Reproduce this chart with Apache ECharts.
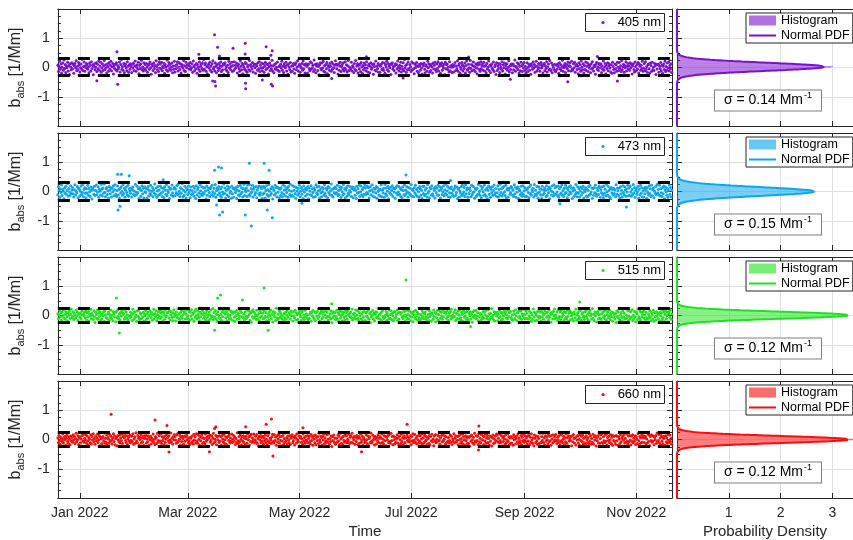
<!DOCTYPE html>
<html>
<head>
<meta charset="utf-8">
<script src="https://cdn.jsdelivr.net/npm/echarts@6/dist/echarts.min.js"></script>
<style>html,body{margin:0;padding:0;background:#fff}#chart{width:853px;height:540px}</style>
</head>
<body>
<div id="chart"></div>
<script>
// ---- data -------------------------------------------------------------
const wavelengths = ['405 nm', '473 nm', '515 nm', '660 nm'];
const lineColors = ['#7B10D0', '#0AA6F0', '#1CE41C', '#FF0A0A'];
const fillColors = ['rgba(123,16,208,0.6)', 'rgba(10,166,240,0.62)', 'rgba(28,228,28,0.6)', 'rgba(255,10,10,0.6)'];
const sigmas = [0.14, 0.15, 0.12, 0.12];          // Mm^-1
const means = [0.025, 0.0, 0.01, 0.0];            // Mm^-1
const monthTickDates = ['2022-01-01', '2022-03-01', '2022-05-01', '2022-07-01', '2022-09-01', '2022-11-01'];
const monthTickLabels = ['Jan 2022', 'Mar 2022', 'May 2022', 'Jul 2022', 'Sep 2022', 'Nov 2022'];
const densityTicks = [1, 2, 3];
const seriesStart = '2021-12-20T00:00:00Z';      // first sample; three samples per day
const seriesEnd = '2022-11-20T12:00:00Z';
const samplesPerDay = 3;

// b_abs noise, every 8 h, in units of 0.01 Mm^-1
const noise405 = [
8,-14,3,21,-6,12,-19,1,15,-9,26,-3,10,-17,5,-1,18,-12,7,-24,13,2,-8,16,
-4,11,-20,6,14,-2,23,-11,4,-7,17,9,-15,0,12,-5,28,-10,3,19,-13,6,-1,14,
10,-6,2,-18,15,7,-12,20,-3,9,-25,4,13,-8,1,16,-14,11,-4,22,-9,5,18,-16,
-2,13,-10,5,24,-7,9,-1,-19,12,3,-13,17,-5,8,21,-11,2,14,-22,6,-3,11,-8,
16,-12,7,-4,1,19,-15,10,27,-6,3,-9,14,-18,6,12,-2,-11,20,4,-16,9,-6,13,
3,-17,11,-2,15,-10,6,22,-13,1,9,-5,18,-21,7,-3,13,25,-8,2,-12,16,-4,10,
-9,14,1,-16,8,12,-6,19,-1,-23,11,5,-10,15,-3,7,-17,23,3,-7,10,-14,20,-2,
12,-5,18,-11,4,-1,14,-20,9,2,-8,26,-13,6,17,-4,11,-9,1,15,-18,5,-6,21,
-15,7,-3,10,20,-12,2,16,-7,13,-19,4,9,-2,24,-10,6,-14,18,-1,8,-25,12,-5,
5,17,-8,-1,12,-16,22,3,-11,8,-4,14,-20,10,1,-7,19,-13,4,11,-3,16,-9,27,
-6,9,15,-13,2,-21,7,11,-2,18,-9,5,-15,13,23,-5,1,-12,16,6,-18,10,-1,-10,
14,-3,6,19,-14,4,-8,13,-24,9,16,-6,2,-11,8,-17,21,-2,12,-7,3,18,-13,7,
-11,20,-5,8,-1,15,-19,6,11,-3,-13,22,4,-8,14,-21,9,1,-6,17,-10,13,-16,2,
7,-8,24,-12,10,3,-5,17,-15,6,12,-1,-20,11,5,-9,16,-4,20,-14,8,-2,15,-11,
-1,12,-16,4,18,-7,13,-3,9,-22,2,15,-10,7,-4,25,-12,6,-18,10,-5,14,1,-8,
19,-10,3,-14,7,11,-2,21,-9,4,-17,13,6,-1,18,-12,8,-23,12,2,-7,17,-15,5,
-13,6,14,-5,-20,9,16,-8,2,23,-12,5,11,-16,3,-2,14,-9,22,-4,10,-19,7,13,
4,-19,9,12,-3,-11,20,-6,15,-1,8,-14,26,-7,11,-18,5,13,-10,3,-25,9,16,-3,
-8,15,-2,21,-13,6,-16,10,-4,17,-21,7,1,-9,14,4,-13,19,-6,12,-1,-17,8,23,
11,-4,8,-22,13,-9,5,18,-14,3,10,-5,16,-12,-2,20,-7,9,-15,6,24,-11,2,-6,
-3,18,-12,6,1,-17,14,-7,24,-10,5,13,-19,8,-4,11,-14,17,2,-20,7,-8,15,-1,
9,-11,20,-2,-15,7,12,-18,4,16,-6,-1,10,-23,13,3,-9,22,-12,5,-3,14,-16,8,
-16,4,11,-7,17,-3,-10,15,-20,9,2,21,-8,14,-13,6,-1,12,-24,10,16,-5,3,-10,
6,13,-19,10,-5,22,1,-12,8,-3,18,-15,4,-6,16,-11,27,-2,7,-16,11,-8,19,-4,
-7,10,2,-14,19,-8,15,-4,-21,12,-1,7,17,-13,3,-18,10,5,-9,14,-2,-22,11,6,
15,-6,-18,9,4,-12,21,-1,13,-16,6,-10,11,2,-19,15,-5,8,18,-7,-14,12,-3,20,
-12,3,13,-20,8,16,-9,5,-2,11,-24,18,-4,9,12,-7,2,-15,20,-11,6,1,-17,10,
2,-15,7,17,-10,5,-4,23,-13,8,14,-20,1,-6,17,9,-12,4,-3,15,-19,7,22,-9,
-5,11,-1,-16,24,-3,10,-11,6,19,-8,3,-14,13,-2,-21,8,16,-6,11,-13,20,-4,5,
13,-9,18,4,-12,7,-19,14,-5,1,22,-10,8,-17,5,12,-3,-8,19,-14,3,9,-24,16,
-10,6,-3,14,-17,11,2,-6,20,-12,9,-1,15,-22,7,-4,13,-9,1,23,-15,6,-7,12,
8,-18,12,-8,5,26,-13,3,-1,16,-7,11,-19,4,-11,18,6,-14,10,-2,17,-10,4,-20,
-4,16,-14,1,11,-9,7,-23,13,4,-6,19,-2,10,-16,3,21,-12,5,-5,14,-1,-13,9,
17,-2,5,-19,9,14,-11,6,-3,20,-15,2,12,-8,24,-6,-10,15,-18,8,1,-7,11,-12,
-14,8,-6,12,3,-20,16,-4,9,-10,1,25,-13,7,-1,14,-17,4,10,-3,19,-11,6,15,
3,-12,21,-5,-9,13,-1,18,-16,6,11,-7,4,-21,16,-4,9,-13,22,1,-8,13,-19,7,
-7,19,-10,4,15,-14,9,-2,6,-18,13,-5,20,-1,-12,8,3,-23,11,17,-6,2,-10,14,
10,-1,13,-17,5,-6,22,-9,2,14,-21,8,-3,16,-11,5,12,-2,-15,9,-20,18,3,-7,
-18,12,-4,9,-13,18,1,-10,17,-3,6,-14,23,-8,2,11,-16,7,-1,20,-12,4,14,-5,
6,-9,16,-1,11,-22,5,13,-7,-15,19,3,-11,10,-5,17,-19,12,4,-9,8,-3,21,-13,
-2,14,-11,20,-6,3,-16,9,12,-4,-19,15,7,-13,18,-8,1,-10,14,6,-24,11,-5,9,
11,-16,5,-3,17,-11,8,-20,4,12,-7,21,-14,3,-9,15,-2,19,-12,7,-4,13,-17,2
];
const noise473 = [
-11,16,4,-20,9,-3,22,-14,7,1,-25,12,-6,18,-9,3,27,-16,10,-2,-13,20,-7,5,
14,-8,-19,6,23,-12,2,-4,17,-21,11,8,-15,1,19,-10,-3,24,-18,7,13,-6,-22,9,
-5,21,-13,10,-1,-17,15,4,-26,12,6,-9,18,-14,3,22,-11,-2,16,-20,8,1,-12,25,
8,-15,12,-6,26,-3,-18,9,14,-10,2,-23,17,5,-8,13,-19,11,-1,20,-14,6,23,-9,
-17,3,19,-12,7,-22,11,-5,16,1,-13,24,-7,10,-20,4,15,-3,-11,21,-16,9,2,-6,
12,-19,6,15,-9,2,-14,25,-2,-11,18,-4,9,-24,13,7,-16,3,20,-8,11,-21,16,-1,
-3,10,-23,8,17,-15,4,-7,21,-12,1,14,-18,6,-5,26,-10,12,-20,2,17,-13,5,-9,
19,-6,13,-17,-1,11,-21,16,5,-9,23,-14,3,-3,15,-24,8,10,-12,22,-5,-16,9,14,
-14,8,-4,20,-11,24,-8,1,-17,13,-6,9,27,-19,4,-13,18,-2,-22,11,6,-10,19,-3,
5,-21,15,-10,3,-7,18,-16,11,-1,-24,20,-12,7,14,-5,-18,23,2,-9,16,-14,-4,12,
-8,13,2,-25,19,-13,6,12,-3,-18,9,16,-10,22,-1,-15,11,-7,24,-20,3,13,-11,7,
17,-4,-14,9,-20,15,-2,-9,26,-6,12,-22,4,-11,19,8,-17,14,-5,1,-23,18,-8,10,
-20,11,7,-3,14,-24,5,18,-12,2,-15,21,-7,13,-2,-19,9,25,-14,6,-1,12,-17,22,
3,-12,24,-15,-6,10,-1,21,-19,8,15,-11,-3,17,-21,5,12,-8,19,-13,-4,16,10,-23,
-9,18,-5,12,-22,3,20,-10,6,-16,24,1,-13,9,-7,16,-26,11,3,-12,21,-6,14,-18,
15,-2,11,-21,8,-14,13,-4,-19,23,-9,5,18,-15,7,-3,12,-20,17,4,-10,25,-16,1,
-13,20,-16,4,16,-7,-23,14,2,-12,10,-5,21,-18,1,14,-9,6,-24,19,-2,8,-15,11,
6,-9,17,-25,12,1,-11,20,-14,9,-3,-20,13,4,-17,23,-6,15,-10,2,18,-22,7,-4,
-18,14,-1,10,-13,22,-7,-16,11,5,-22,17,-4,12,-11,2,26,-13,8,-19,10,-3,15,-8,
10,-5,21,-14,3,-10,16,7,-20,14,-1,-12,24,-8,9,-21,5,13,-15,20,-6,-11,3,17,
-2,-17,9,15,-21,6,12,-13,4,-24,18,-6,10,-3,22,-16,-1,19,-11,7,-18,14,-9,24,
13,-10,-3,19,-7,14,-22,2,16,-11,5,23,-15,-2,11,-19,8,-5,17,-23,13,1,-12,6,
-15,7,22,-18,4,-5,11,-20,25,-8,12,-14,1,18,-25,9,-4,14,-9,3,20,-16,11,-2,
9,-23,14,-6,20,-12,-2,17,-9,10,-17,6,-21,15,3,-11,22,-14,5,-7,16,-1,-19,13,
-6,12,-11,24,-15,8,3,-18,13,-4,21,-10,7,-16,12,-1,-20,17,9,-13,4,-24,18,-7,
18,-14,5,-9,11,-19,23,-5,1,-21,14,9,-12,20,-8,-15,10,4,-22,16,-3,11,-13,21,
-12,3,16,-22,7,13,-10,-1,20,-15,6,-7,25,-11,2,17,-18,12,-5,-20,9,15,-6,-14,
4,-16,10,19,-13,-3,15,-24,8,11,-19,2,-6,16,-14,21,-9,-2,14,-17,23,-8,5,12,
-20,9,-7,13,3,-18,21,-11,-4,17,-2,-23,10,6,-16,11,-10,24,-7,1,-14,19,-21,8,
15,-1,-13,22,-10,6,-16,12,-25,4,19,-9,14,-20,8,-4,16,-13,3,22,-11,-5,10,-17,
-4,20,-19,7,-12,25,-3,9,-15,13,-8,18,-1,-14,21,-22,6,11,-19,5,12,-9,-3,17,
11,-12,4,-17,23,-8,14,-20,10,-2,15,-24,8,3,-11,18,-5,-16,20,-10,2,14,-18,7,
-16,6,13,-3,-21,16,-7,22,-13,5,-1,11,-19,24,-9,4,-14,17,-6,-23,16,-2,9,-11,
8,-22,18,-11,5,-6,12,3,-18,20,-14,7,-4,15,-25,10,2,-12,19,-1,-15,23,-8,13,
-10,17,-2,-14,19,-20,9,-9,15,-5,22,-13,3,-17,11,-7,21,-3,13,-21,7,-11,16,-1,
20,-7,11,-24,2,13,-16,6,-10,24,-3,-18,16,-6,9,-19,1,15,-12,10,-4,18,-22,5,
-1,13,-15,8,-19,4,17,-12,21,-9,-2,12,-23,10,-13,14,-4,22,-8,-16,11,3,-10,19,
14,-20,6,-4,16,-11,-21,19,-6,8,-15,25,-1,-12,17,3,-18,9,-24,14,-5,7,-13,10,
-7,5,-18,23,-9,11,2,-14,12,-22,16,-8,4,-19,20,-3,-11,16,5,-16,9,-2,21,-15,
12,-13,19,-2,-16,7,-10,24,-5,14,-20,3,11,-9,-1,18,-23,8,-12,21,-6,13,-19,2,
-19,10,-8,15,4,-23,13,-3,-12,20,-7,9,-17,22,-14,6,12,-21,1,-6,17,-11,24,-5,
7,-11,21,-15,9,-4,-17,14,-8,19,-24,6,15,-2,-13,10,-20,3,22,-9,14,-18,4,-12
];
const noise515 = [
6,-11,2,17,-5,9,-16,12,-1,20,-8,3,-13,14,7,-4,-19,10,1,15,-10,5,22,-7,
-3,13,-14,8,1,-9,18,-2,11,-17,4,23,-6,9,-12,2,16,-21,6,-1,12,-8,19,-15,
10,-4,14,-19,5,-2,21,-11,7,1,-14,16,-5,-24,11,3,-9,19,-13,8,-3,14,-17,4,
-12,7,-1,13,-20,16,2,-7,25,-10,5,12,-16,3,-6,18,-11,1,-18,13,7,-4,10,-21,
14,-8,19,-3,-11,6,-15,10,-2,17,-22,8,4,-13,20,-5,12,-9,2,-16,22,-1,-7,11,
-5,3,-17,21,8,-12,13,-6,1,-20,15,-2,18,-8,-14,9,5,-10,24,-4,11,-19,6,-1,
17,-14,6,-9,12,-1,-22,15,4,-7,10,-16,2,21,-11,7,-3,16,-18,3,-9,13,-2,19,
-10,8,-5,14,-19,11,3,-13,19,-4,-1,9,-25,12,-8,16,-15,2,13,-6,-17,8,20,-3,
4,-18,12,1,-7,23,-10,6,-14,10,-3,17,-9,2,-21,14,8,-12,5,19,-8,-1,-13,15,
-16,11,-2,20,-12,4,9,-20,14,-6,22,-1,-11,15,3,-7,-18,11,-4,7,-23,16,3,-9,
9,-3,-15,7,16,-8,1,-17,12,2,-13,19,-6,-2,24,-14,10,-5,17,-11,4,-20,13,1,
-7,21,-10,3,-16,12,-4,18,-22,9,5,-8,14,-18,6,-3,20,-13,1,-9,15,11,-16,8,
13,-6,-20,11,-1,17,-13,2,8,-11,-3,16,-21,10,-5,23,-8,4,-15,12,-2,-10,19,-4,
-2,15,5,-16,9,-23,14,-5,20,-9,11,-4,3,-14,18,-1,-12,7,-19,16,-6,9,-3,21,
8,-12,17,-7,-3,10,-18,21,-6,4,-15,13,-1,19,-10,6,-22,14,2,-5,10,-17,25,-8,
-14,4,-9,16,12,-4,6,-11,-2,22,-17,7,-8,11,-13,2,17,-6,-21,9,3,-12,15,-1,
11,-19,13,-1,-8,18,-15,9,3,-14,8,-23,15,5,-4,-17,11,20,-9,1,-14,18,-5,6,
-8,1,-14,24,-10,5,12,-20,10,-1,17,-7,-12,13,-18,9,-2,14,-10,22,-3,6,-19,12,
16,-11,7,-5,14,-21,2,17,-8,11,-3,-16,21,-4,6,-11,15,-24,8,-7,13,-1,10,-14,
-3,18,-12,9,-20,3,15,-9,-1,13,-19,4,11,-6,-15,18,-2,9,-13,16,1,-22,7,-4,
12,-7,22,-15,4,-10,8,-3,19,-13,2,16,-9,-17,10,-1,21,-11,5,-18,12,-6,14,-20,
-17,9,-2,14,-8,20,-13,6,-24,11,-5,1,17,-12,8,-19,4,13,-7,11,-4,24,-10,2,
5,-14,10,-20,16,-3,-11,23,-7,2,14,-17,7,-2,-13,20,-9,3,16,-14,8,-1,-18,13,
-9,13,-6,3,19,-16,9,-12,11,-22,5,10,-4,21,-10,-1,14,-20,2,-6,18,-13,4,-11,
15,-2,-18,11,-5,7,-21,14,2,-8,18,-12,-1,12,-16,6,-7,23,-15,3,-10,15,-3,9,
-11,6,12,-4,-14,21,-7,3,-18,15,-3,7,-20,9,2,-13,19,-4,10,-21,6,-8,17,-15,
3,-20,16,-9,11,-1,-13,18,-5,10,-24,12,5,-10,15,-3,-17,8,-2,14,-12,21,-6,1,
-6,11,-3,20,-17,8,-10,5,15,-13,1,19,-8,-15,11,4,-20,16,-6,9,-1,-14,13,-9,
19,-15,7,-1,13,-12,4,-23,12,-4,16,-7,2,17,-11,-2,10,-18,22,-5,7,-16,3,-12,
-4,14,-9,12,-22,2,18,-10,-3,20,-15,6,-13,8,-6,24,-8,1,-14,13,-19,5,11,-2,
10,-18,3,-7,17,-5,11,-16,7,-12,-2,14,-21,5,13,-9,2,-12,18,-4,9,-25,14,-7,
-13,2,-16,15,6,-11,20,-1,-17,9,12,-6,17,-3,-10,15,-14,6,-1,21,-8,3,-11,16,
7,-10,21,-12,-1,14,-8,10,-20,3,-14,22,-5,11,-18,7,1,-16,13,-3,17,-9,-4,12,
-19,14,-4,8,-13,3,16,-21,9,-6,11,-2,-15,19,-7,3,-23,10,5,-12,14,-1,22,-10,
2,-7,13,-17,20,-9,-3,12,-14,18,-5,8,1,-19,14,-11,9,-6,-13,17,-2,-20,8,15,
-15,10,-1,-11,7,-19,13,4,-8,22,-16,2,9,-13,-3,16,-10,20,-17,5,10,-6,-2,-14,
13,-4,18,-8,2,-15,9,-20,17,-2,6,-12,24,-9,4,-17,12,-1,11,-22,7,14,-11,3,
-8,20,-13,5,-21,11,-6,15,-1,-12,19,-16,3,13,-8,-2,18,-14,6,-3,12,-19,9,-5,
4,-12,7,-24,15,-3,12,-9,21,-15,1,10,-7,-20,16,-5,8,-13,24,-10,2,-8,16,-17,
-2,16,-11,13,-6,20,-17,1,-10,14,-4,-21,12,6,-14,21,-3,-9,15,-16,11,-5,3,13,
17,-9,2,-14,11,-7,23,-13,5,-3,16,-8,-18,10,1,-12,18,-20,9,-4,-15,13,-1,7,
-10,5,-19,12,-2,8,-14,19,-7,13,-20,4,15,-11,-1,11,-21,6,14,-6,20,-13,5,-3
];
const noise660 = [
5,-10,14,-3,-16,8,2,-7,19,-12,6,-1,11,-20,4,15,-6,-13,9,1,-18,12,-4,7,
-9,16,-2,11,-14,3,21,-8,-1,13,-17,6,9,-11,2,-22,14,-5,18,-9,4,-2,16,-13,
12,-4,-19,7,1,-11,16,-15,10,-2,20,-8,3,-16,12,-4,6,19,-10,-1,14,-21,8,2,
-14,6,10,-5,22,-13,4,-9,15,-18,7,1,-12,17,-6,11,-2,-15,5,20,-7,12,-19,3,
8,-21,13,-1,-8,15,-12,5,-3,18,-14,10,-24,6,14,-3,-10,13,-17,2,9,-6,15,-11,
-3,11,-7,20,-16,2,9,-13,23,-5,-10,14,4,-19,8,-1,17,-12,6,-8,12,-20,3,10,
15,-12,2,-8,13,-20,7,-1,11,-15,4,-6,19,-9,1,-17,10,5,-14,21,-3,-9,14,-5,
-6,19,-14,9,-3,6,-18,12,-9,2,16,-21,7,-4,13,-11,-2,22,-8,4,-15,10,-1,17,
10,-2,-13,16,-10,21,-5,1,14,-19,8,-7,11,3,-16,12,-6,9,-22,15,-2,6,-12,-4,
-17,7,4,-11,12,-6,-15,18,-2,9,-12,20,-5,-13,16,1,-20,11,-4,8,17,-14,5,-9,
3,-15,19,-6,8,-1,12,-23,6,15,-9,-3,13,-17,4,21,-11,2,-7,14,-18,9,-1,12,
-10,13,-5,10,-20,14,2,-8,17,-13,-1,9,-16,7,-21,11,-3,16,-12,5,-6,19,-10,1,
14,-6,8,-17,3,-11,23,-4,-14,10,-7,15,1,-19,9,-5,13,-10,4,-18,11,2,-13,20,
-1,9,-20,12,-7,18,-9,5,-3,19,-12,-1,11,-8,17,-14,3,-22,10,-2,14,-11,7,-6,
11,-16,6,-4,15,-10,1,-18,13,-6,21,-11,4,-2,-14,9,18,-7,-12,16,-3,8,-20,13,
-8,2,17,-13,9,-3,-21,11,-5,14,-16,3,-9,22,-4,6,-15,12,-1,-10,13,-17,4,9,
16,-11,-4,8,-19,13,5,-12,20,-1,-8,12,-22,6,10,-9,2,-16,19,-5,7,-13,11,-2,
-5,14,-12,3,11,-7,-15,17,-3,8,-20,13,2,-11,15,-18,7,-4,10,-14,21,-1,-9,12,
7,-19,10,-2,18,-14,6,-5,-11,16,-8,1,20,-15,3,-7,12,-24,9,-3,15,-10,5,-16,
-12,4,-8,15,-5,10,-17,21,2,-13,7,-19,11,-3,-9,17,-6,13,-11,1,-5,18,-14,8,
13,-9,21,-12,6,-2,11,-16,8,-7,14,4,-18,10,-13,5,19,-9,-2,12,-20,7,1,-10,
-4,17,-1,-14,12,-20,3,9,-10,22,-6,-12,15,-2,7,-19,11,1,-15,8,-6,16,-11,4,
9,-13,5,19,-9,1,-16,13,-4,10,-21,8,-2,14,-11,17,-6,-13,21,-4,10,-18,12,-1,
-15,8,-10,2,16,-12,7,-20,12,-1,-14,19,-7,5,-17,13,4,-10,6,-22,15,-3,9,-8,
3,-7,14,-18,9,-4,20,-11,-2,17,-9,5,-15,11,-1,-13,16,-6,13,-12,2,20,-16,6,
-11,15,-6,11,-2,-17,8,3,-13,14,-19,10,-4,18,-8,2,-21,12,-5,17,-11,1,-7,14,
12,-3,-15,6,-21,14,-8,17,-5,1,13,-16,9,-10,22,-6,7,-12,-3,15,-9,11,-17,2,
-6,20,-11,4,13,-9,-3,10,-18,12,-2,16,-13,3,-7,18,-15,9,-1,-19,13,-4,6,-14,
10,-14,7,-23,11,-6,15,-1,-12,8,-16,21,-5,-9,13,-3,11,-17,20,-8,4,-12,17,-2,
-2,12,-17,9,-5,18,-13,4,14,-10,3,-20,12,-6,9,-22,6,15,-14,2,-10,12,-3,19,
15,-8,4,-12,19,-3,-10,14,-21,6,-7,11,2,-16,17,-11,-1,20,-6,9,-18,5,-13,10,
-12,6,-20,16,-1,9,-15,3,11,-8,19,-14,5,-3,-12,14,-19,8,-4,17,-9,-2,13,-7,
6,-16,12,-5,14,-18,8,-9,20,-2,-13,6,-21,15,4,-10,12,-5,-16,10,3,-14,21,-11,
-9,10,-3,21,-11,5,-19,13,-6,9,-1,-15,17,-8,11,-4,-20,14,2,-12,16,-7,9,-1,
17,-5,-14,8,-2,13,-9,-18,15,-4,20,-10,1,11,-17,6,-8,19,-13,7,-21,13,-5,3,
-4,11,-21,12,-8,17,3,-13,6,-19,10,-2,14,-12,2,-20,16,-3,11,-7,15,-16,4,-11,
8,-18,13,-1,-10,6,-14,20,-6,12,-16,3,-9,18,-15,9,-2,13,-22,5,-4,10,-12,18,
-13,3,16,-10,21,-13,9,-4,-11,15,-6,18,-19,7,-3,12,-10,-1,16,-14,8,-20,14,-3,
11,-7,-16,14,-4,10,-20,9,2,-14,16,-8,5,-23,11,-2,18,-12,4,-9,19,-6,-15,12,
-8,14,-2,-19,12,-7,16,-11,4,-5,13,-17,9,1,-14,20,-4,-16,10,6,-11,15,-9,7,
13,-10,6,11,-15,2,-12,19,-7,15,-21,10,-3,16,-9,-5,12,-18,7,-2,14,-13,22,-6,
-3,17,-12,5,-18,14,-6,9,-15,3,11,-20,13,-8,6,-13,17,-3,-10,15,-7,4,-16,10
];

// isolated excursions: [days after first sample, b_abs in Mm^-1]
const spikes405 = [[21.3,-0.45],[32.3,0.54],[32.7,-0.57],[77,0.45],[84.6,-0.46],[85.6,1.12],[85.8,-0.48],[86.2,-0.63],[87.3,0.69],[88.3,0.39],[95.7,0.66],[102.3,0.46],[102.4,0.83],[102.5,-0.54],[102.6,-0.73],[111.7,-0.43],[113.8,0.71],[116.4,0.42],[117.1,0.57],[116.6,-0.57],[117.3,-0.63],[149.6,-0.38],[168.6,0.37],[188.6,-0.36],[224.4,0.36],[247.2,-0.4],[278.6,-0.49],[294.7,0.38],[305.7,-0.46]];
const spikes473 = [[32.7,0.59],[34.7,0.59],[39,0.54],[32.9,-0.63],[34,-0.5],[57.5,0.4],[85.6,0.73],[87.8,0.84],[89.4,0.8],[86.7,-0.46],[88.3,-0.8],[90,-0.7],[102.4,-0.8],[104.6,0.97],[105.7,-1.18],[112.7,0.97],[115.4,0.73],[114.4,-0.63],[117.1,-0.9],[133.3,-0.4],[190.2,0.56],[214.6,0.38],[274.3,-0.42],[310.6,-0.53]];
const spikes515 = [[32,0.6],[33.6,-0.6],[85.6,-0.5],[87.3,0.6],[88.9,0.7],[100.8,0.53],[112.7,0.94],[114.9,-0.5],[149.6,0.4],[190.2,1.21],[225.5,-0.38],[285.1,0.46]];
const spikes660 = [[29.1,0.86],[53.1,0.67],[59.6,0.48],[60.7,-0.43],[82.8,-0.42],[85.6,0.38],[86.3,0.44],[102.6,0.44],[113.8,0.52],[116.7,0.7],[117.5,-0.56],[133.9,0.4],[165.9,-0.42],[190.8,0.52],[229.8,-0.36],[230,0.46]];

// histogram densities (x100), bins of 0.025 Mm^-1 starting at -0.5
const binStart = -0.5, binWidth = 0.025;
const hist405 = [1,1,2,3,5,8,12,18,26,36,49,66,87,112,141,171,202,231,257,280,298,301,279,255,233,200,169,143,110,88,65,50,35,27,17,12,8,5,3,2];
const hist473 = [1,2,4,6,9,15,21,29,43,57,77,97,123,147,173,202,225,245,257,265,268,259,243,222,200,176,149,121,98,75,58,42,30,21,14,10,6,4,2,1];
const hist515 = [1,1,2,2,4,5,8,13,20,31,47,68,97,131,173,215,256,291,314,329,332,318,289,253,213,171,134,99,71,49,33,22,14,9,6,4,3,2,1,1];
const hist660 = [1,1,2,3,4,6,9,14,21,32,48,70,98,133,172,212,254,288,316,344,346,312,290,252,214,170,135,97,69,48,32,21,13,9,5,4,2,2,1,1];

const noiseSets = [noise405, noise473, noise515, noise660];
const spikeSets = [spikes405, spikes473, spikes515, spikes660];
const histSets = [hist405, hist473, hist515, hist660];

// ---- layout & style ------------------------------------------------------
const FONT = "'Liberation Sans', Arial, Helvetica, sans-serif";
const AX = '#262626';
const GRID = '#dfdfdf';
const panelTops = [9, 133, 257, 381];
const panelH = 117;
const DAY = 864e5;
const t0 = Date.parse(seriesStart);
const xMin = t0, xMax = Date.parse(seriesEnd);
const monthTs = monthTickDates.map(d => Date.parse(d + 'T00:00:00Z'));
const LINE_ICON = 'path://M0,0L27,0L27,2L0,2Z';

function timeAxis(gi, pos, labels, name) {
  return {
    type: 'value', gridIndex: gi, position: pos, min: xMin, max: xMax,
    axisLine: { show: true, onZero: false, lineStyle: { color: AX, width: 1 } },
    axisTick: { show: true, inside: true, length: 5, customValues: monthTs, lineStyle: { color: AX, width: 1 } },
    axisLabel: { show: labels, customValues: monthTs, margin: 8, fontSize: 14, color: AX, fontFamily: FONT,
      formatter: v => monthTickLabels[monthTs.indexOf(v)] || '' },
    splitLine: { show: pos === 'bottom', lineStyle: { color: GRID, width: 1 } },
    name: name || '', nameLocation: 'middle', nameGap: 26,
    nameTextStyle: { fontSize: 15, color: AX, fontFamily: FONT }
  };
}
function densityAxis(gi, pos, labels, name) {
  return {
    type: 'value', gridIndex: gi, position: pos, min: 0, max: 3.4,
    axisLine: { show: true, onZero: false, lineStyle: { color: AX, width: 1 } },
    axisTick: { show: true, inside: true, length: 5, customValues: densityTicks, lineStyle: { color: AX } },
    axisLabel: { show: labels, customValues: densityTicks, margin: 8, fontSize: 14, color: AX, fontFamily: FONT },
    splitLine: { show: pos === 'bottom', lineStyle: { color: GRID, width: 1 } },
    name: name || '', nameLocation: 'middle', nameGap: 26,
    nameTextStyle: { fontSize: 15, color: AX, fontFamily: FONT }
  };
}
function babsAxis(gi, pos, labels, grid, withName) {
  return {
    type: 'value', gridIndex: gi, position: pos, min: -2, max: 2, interval: 1,
    axisLine: { show: true, onZero: false, lineStyle: { color: AX, width: 1 } },
    axisTick: { show: true, inside: true, length: 5, lineStyle: { color: AX } },
    minorTick: { show: true, splitNumber: 4, length: 3, lineStyle: { color: AX } },
    axisLabel: { show: labels, margin: 8, fontSize: 14, color: AX, fontFamily: FONT,
      formatter: v => (Math.abs(v) >= 2 ? '' : String(v)) },
    splitLine: { show: grid, lineStyle: { color: GRID, width: 1 } },
    name: withName ? '{b|b}{s|abs}{b| [1/Mm]}' : '', nameLocation: 'middle', nameGap: 18,
    nameTextStyle: {
      color: AX, fontFamily: FONT, fontSize: 16,
      rich: {
        b: { fontSize: 16, color: AX, fontFamily: FONT },
        s: { fontSize: 11, color: AX, fontFamily: FONT, padding: [10, 0, 0, 0] }
      }
    }
  };
}

const grid = [], xAxis = [], yAxis = [], series = [], legend = [], graphic = [];

for (let i = 0; i < 4; i++) {
  const top = panelTops[i];
  const last = i === 3;
  const gL = grid.length;
  grid.push({ left: 54, top: top, width: 618, height: panelH });
  grid.push({ left: 677, top: top, width: 177, height: panelH });
  const gR = gL + 1;

  const xL = xAxis.length;
  xAxis.push(timeAxis(gL, 'bottom', last, last ? 'Time' : ''));
  xAxis.push(timeAxis(gL, 'top', false));
  const xR = xAxis.length;
  xAxis.push(densityAxis(gR, 'bottom', last, last ? 'Probability Density' : ''));
  xAxis.push(densityAxis(gR, 'top', false));

  const yL = yAxis.length;
  yAxis.push(babsAxis(gL, 'left', true, true, true));
  yAxis.push(babsAxis(gL, 'right', false, false, false));
  const yR = yAxis.length;
  yAxis.push(babsAxis(gR, 'left', false, true, false));

  // time series of b_abs
  const pts = noiseSets[i].map((v, k) => [t0 + k * DAY / samplesPerDay, v / 100]);
  spikeSets[i].forEach(([d, v]) => pts.push([t0 + d * DAY, v]));
  const m = means[i], s = sigmas[i];
  series.push({
    type: 'scatter', name: wavelengths[i], xAxisIndex: xL, yAxisIndex: yL,
    data: pts, symbolSize: 3, itemStyle: { color: lineColors[i], opacity: 1 },
    markLine: {
      silent: true, symbol: ['none', 'none'], animation: false, z: 5,
      label: { show: false },
      lineStyle: { color: '#000', width: 3, type: [12, 8] },
      emphasis: { disabled: true },
      data: [{ yAxis: m + 2 * s }, { yAxis: m - 2 * s }]
    }
  });

  // histogram, drawn as horizontal bins
  const fill = fillColors[i];
  const hist = histSets[i].map((v, k) => [v / 100, binStart + k * binWidth, binStart + (k + 1) * binWidth]);
  series.push({
    type: 'custom', name: 'Histogram ' + (i + 1), xAxisIndex: xR, yAxisIndex: yR,
    data: hist, encode: { x: 0, y: [1, 2] }, clip: true,
    itemStyle: { color: fill },
    renderItem: (params, api) => {
      const a = api.coord([0, api.value(2)]);
      const b = api.coord([api.value(0), api.value(1)]);
      return { type: 'rect', shape: { x: a[0], y: a[1], width: b[0] - a[0], height: b[1] - a[1] },
        style: { fill: fill } };
    }
  });

  // normal PDF with the stated sigma
  const pdf = [];
  for (let y = -2; y <= 2.0001; y += 0.005) {
    const dens = Math.exp(-((y - m) * (y - m)) / (2 * s * s)) / (s * Math.sqrt(2 * Math.PI));
    pdf.push([dens, +y.toFixed(3)]);
  }
  series.push({
    type: 'line', name: 'Normal PDF ' + (i + 1), xAxisIndex: xR, yAxisIndex: yR,
    data: pdf, symbol: 'none', showSymbol: false, clip: true,
    lineStyle: { color: lineColors[i], width: 2 }, itemStyle: { color: lineColors[i] }
  });

  legend.push({
    left: 746, top: top + 4, orient: 'vertical', selectedMode: false,
    data: [{ name: 'Histogram ' + (i + 1), icon: 'rect' }, { name: 'Normal PDF ' + (i + 1), icon: LINE_ICON }],
    formatter: n => n.replace(/ \d$/, ''),
    itemWidth: 27, itemHeight: 10, itemGap: 2, padding: [1, 3, 1, 3],
    borderColor: AX, borderWidth: 1, backgroundColor: '#fff',
    textStyle: { fontSize: 12.5, color: '#000', fontFamily: FONT }
  });

  // key for the time-series panel: boxed marker sample and wavelength
  graphic.push({
    type: 'group', z: 100,
    children: [
      { type: 'rect', z: 100, shape: { x: 585.5, y: top + 4.5, width: 79, height: 18 },
        style: { fill: '#fff', stroke: AX, lineWidth: 1 } },
      { type: 'circle', z: 101, shape: { cx: 603, cy: top + 13.5, r: 1.6 },
        style: { fill: lineColors[i] } },
      { type: 'text', z: 101, x: 661, y: top + 13.5,
        style: { text: wavelengths[i], align: 'right', verticalAlign: 'middle',
          fontSize: 13, fontFamily: FONT, fill: '#000' } }
    ]
  });

  graphic.push({
    type: 'text', x: 768, y: top + 91.5, z: 100,
    style: {
      text: '{t|σ = ' + s.toFixed(2) + ' Mm}{sup|-1}',
      align: 'center', verticalAlign: 'middle',
      backgroundColor: '#fff', borderColor: '#808080', borderWidth: 1, padding: [1, 9, 1, 9],
      rich: {
        t: { fontSize: 14, fill: '#000', fontFamily: FONT },
        sup: { fontSize: 9, fill: '#000', fontFamily: FONT, padding: [0, 0, 9, 1] }
      }
    }
  });
}

const chart = echarts.init(document.getElementById('chart'), null, { renderer: 'canvas' });
chart.setOption({
  animation: false,
  backgroundColor: '#fff',
  textStyle: { fontFamily: FONT },
  grid, xAxis, yAxis, series, legend, graphic
});
</script>
</body>
</html>
